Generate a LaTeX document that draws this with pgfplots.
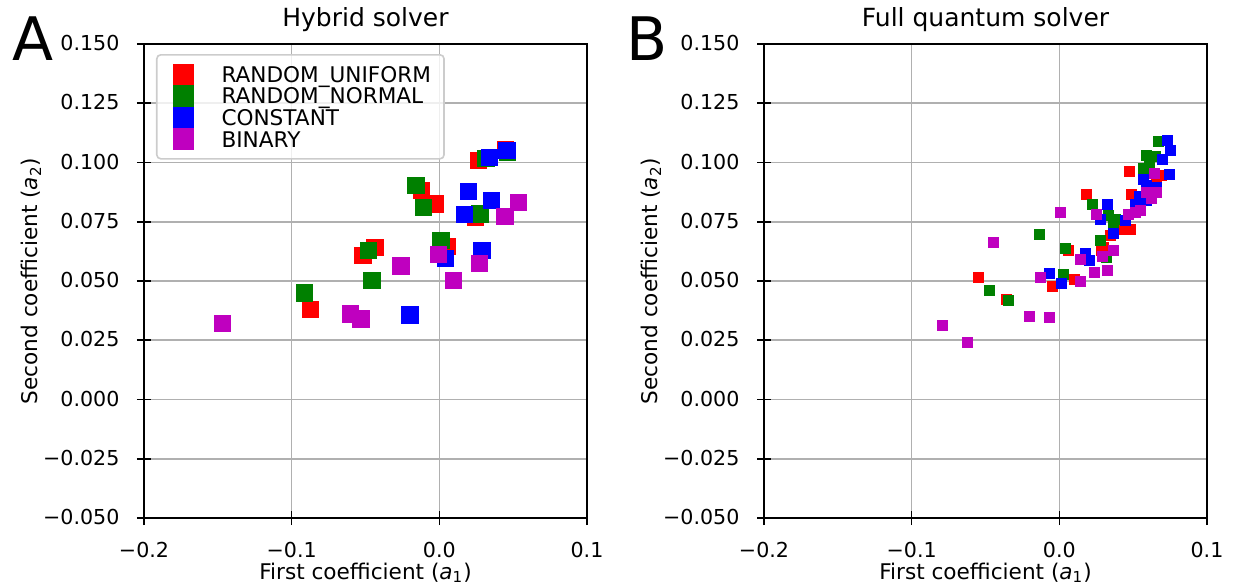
\documentclass[border=0pt]{standalone}
\usepackage{fontspec}
\setmainfont{DejaVu Sans}
\usepackage{pgfplots}
\pgfplotsset{compat=1.18}
\definecolor{mred}{rgb}{1,0,0}
\definecolor{mgreen}{rgb}{0,0.5,0}
\definecolor{mblue}{rgb}{0,0,1}
\definecolor{mmag}{rgb}{0.75,0,0.75}
\definecolor{mgrid}{HTML}{B0B0B0}
\pgfplotsset{
  panel/.style={
    scale only axis, width=221.5pt, height=237pt,
    xmin=-0.2, xmax=0.1, ymin=-0.05, ymax=0.15,
    xtick={-0.2,-0.1,0,0.1},
    xticklabels={−0.2,−0.1,0.0,0.1},
    ytick={-0.05,-0.025,0,0.025,0.05,0.075,0.1,0.125,0.15},
    yticklabels={−0.050,−0.025,0.000,0.025,0.050,0.075,0.100,0.125,0.150},
    xtick pos=bottom, ytick pos=left,
    tick align=center, major tick length=7pt,
    every tick/.append style={black, line width=0.8pt},
    axis line style={black, line width=0.8pt},
    grid=major, grid style={mgrid, line width=0.8pt},
    tick label style={font=\fontsize{10.3}{12}\selectfont, inner sep=0pt},
    xticklabel style={anchor=base, yshift=-16pt},
    yticklabel style={anchor=base east, xshift=-8.6pt, yshift=-3.3pt},
    every axis x label/.style={at={([yshift=-30.5pt]axis description cs:0.5,0)}, anchor=base, inner sep=0pt, font=\fontsize{10.8}{12}\selectfont},
    every axis y label/.style={at={([xshift=-53.3pt]axis description cs:0,0.5)}, rotate=90, anchor=base, inner sep=0pt, font=\fontsize{10.8}{12}\selectfont},
    every axis title/.style={at={([yshift=8.8pt]axis description cs:0.5,1)}, anchor=base, inner sep=0pt, font=\fontsize{12.5}{14}\selectfont},
    xlabel={First coefficient (\textit{a}\textsubscript{1})},
    ylabel={Second coefficient (\textit{a}\textsubscript{2})},
  },
  big/.style={only marks, mark=square*, mark size=4.1pt, color=#1, mark options={line width=0.5pt}},
  small/.style={only marks, mark=square*, mark size=2.5pt, color=#1, mark options={line width=0.5pt}},
  legsq/.style={legend image code/.code={\path[draw=none, fill=none] (0pt,-5.4pt) rectangle (25.85pt,5.4pt); \fill[#1, draw=none, fill opacity=1, sharp corners] (3pt,-5.4pt) rectangle (13.8pt,5.4pt);}},
}
\begin{document}
\begin{tikzpicture}
\useasboundingbox (0,0) rectangle (619pt,293pt);
\node[anchor=base west, inner sep=0pt, font=\fontsize{30}{30}\selectfont] at (6pt,263pt) {A};
\node[anchor=base west, inner sep=0pt, font=\fontsize{30}{30}\selectfont] at (313pt,263pt) {B};
\begin{axis}[panel, at={(72pt,34pt)}, anchor=south west,
  title={Hybrid solver},
  legend cell align=left,
  legend style={at={(axis description cs:0,1)}, anchor=north west, xshift=6pt, yshift=-5pt,
    draw=black!20, line width=0.8pt, rounded corners=2pt, fill=white, fill opacity=0.8, text opacity=1,
    inner xsep=5pt, inner ysep=4.4pt, row sep=0pt, column sep=0pt,
    font=\fontsize{10.8}{10.8}\selectfont,
    nodes={inner ysep=0pt, inner xsep=1.5pt, text height=9.3pt, text depth=1.5pt}},
]
\addplot[big=mred, legsq=mred] coordinates {
(-0.0874,0.038) (-0.0518,0.0607) (-0.0435,0.0642) (-0.012,0.0881) (-0.003,0.0825)
(0.0056,0.0645) (0.0243,0.0769) (0.0266,0.1008) (0.045,0.1056)};
\addlegendentry{RANDOM\_UNIFORM}
\addplot[big=mgreen, legsq=mgreen] coordinates {
(-0.0914,0.045) (-0.0455,0.0503) (-0.048,0.0628) (-0.0158,0.0904) (-0.0106,0.0811)
(0.0011,0.067) (0.0275,0.0783) (0.0315,0.1018) (0.046,0.1045)};
\addlegendentry{RANDOM\_NORMAL}
\addplot[big=mblue, legsq=mblue] coordinates {
(-0.0198,0.0357) (0.004,0.0594) (0.0288,0.0628) (0.0169,0.078) (0.0196,0.0877)
(0.0354,0.0839) (0.0338,0.1022) (0.0457,0.105)};
\addlegendentry{CONSTANT}
\addplot[big=mmag, legsq=mmag] coordinates {
(-0.147,0.032) (-0.060,0.036) (-0.053,0.034) (-0.0259,0.0563) (-0.0005,0.0611)
(0.0095,0.0501) (0.027,0.0575) (0.0446,0.0771) (0.0536,0.083)};
\addlegendentry{BINARY}
\end{axis}
\begin{axis}[panel, at={(382pt,34pt)}, anchor=south west,
  title={Full quantum solver}]
\addplot[small=mred] coordinates {
(-0.0549,0.0514) (-0.036,0.042) (-0.0047,0.0475) (0.006,0.0627) (0.01,0.0508)
(0.0181,0.0863) (0.0287,0.0627) (0.0298,0.0641) (0.0344,0.069) (0.0416,0.0719)
(0.0479,0.0716) (0.0474,0.0962) (0.049,0.0867) (0.0655,0.0927) (0.0694,0.0947)
(0.060,0.090)};
\addplot[small=mgreen] coordinates {
(-0.0474,0.0462) (-0.0345,0.0419) (-0.0137,0.0697) (0.0027,0.0526) (0.0043,0.0637)
(0.0226,0.0824) (0.0276,0.0672) (0.0316,0.0599) (0.0332,0.0775) (0.0366,0.0747)
(0.0377,0.0761) (0.0569,0.0975) (0.0592,0.1028) (0.0648,0.1025) (0.0671,0.1087)
(0.061,0.099)};
\addplot[small=mblue] coordinates {
(-0.007,0.053) (0.0016,0.0489) (0.0174,0.0616) (0.0203,0.0588) (0.0276,0.0761)
(0.0325,0.0822) (0.0366,0.07) (0.0445,0.0754) (0.0513,0.0824) (0.0542,0.0856)
(0.0592,0.0838) (0.0569,0.093) (0.07,0.1014) (0.0732,0.1092) (0.075,0.1049)
(0.0745,0.0948) (0.059,0.0905) (0.0655,0.0895)};
\addplot[small=mmag] coordinates {
(-0.079,0.0313) (-0.0623,0.024) (-0.0447,0.0662) (-0.0205,0.035) (-0.0065,0.0345)
(-0.0126,0.0513) (0.0005,0.0789) (0.0145,0.0589) (0.0145,0.0497) (0.0235,0.0535)
(0.0328,0.0543) (0.0294,0.0602) (0.0366,0.063) (0.0255,0.0779) (0.0467,0.0782)
(0.0513,0.0789) (0.0547,0.0796) (0.0592,0.0873) (0.066,0.0873) (0.0626,0.0848)
(0.0642,0.0955)};
\end{axis}
\end{tikzpicture}
\end{document}
